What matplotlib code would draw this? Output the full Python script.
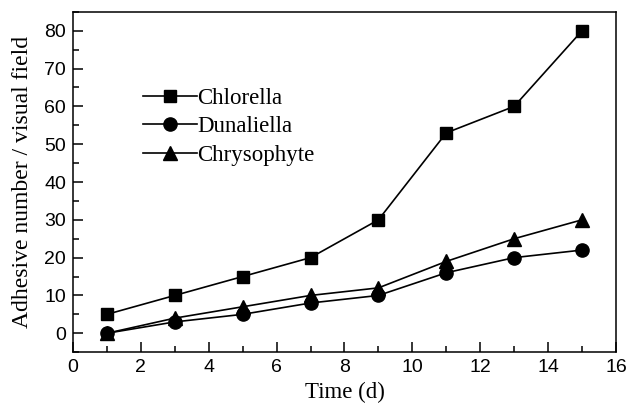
import matplotlib.pyplot as plt
from matplotlib.ticker import MultipleLocator

days = [1, 3, 5, 7, 9, 11, 13, 15]
chlorella = [5, 10, 15, 20, 30, 53, 60, 80]
dunaliella = [0, 3, 5, 8, 10, 16, 20, 22]
chrysophyte = [0, 4, 7, 10, 12, 19, 25, 30]

serif = "Liberation Serif"
sans = "Liberation Sans"

fig = plt.figure(figsize=(6.26, 4.09), dpi=100)
ax = fig.add_axes([0.1166, 0.139, 0.8674, 0.832])

style = dict(color="black", lw=1.2)
ax.plot(days, chlorella, marker="s", markersize=9, label="Chlorella", **style)
ax.plot(days, dunaliella, marker="o", markersize=9.5, label="Dunaliella", **style)
ax.plot(days, chrysophyte, marker="^", markersize=10, label="Chrysophyte", **style)

ax.set_xlim(0, 16)
ax.set_ylim(-5, 85)
ax.xaxis.set_major_locator(MultipleLocator(2))
ax.xaxis.set_minor_locator(MultipleLocator(1))
ax.yaxis.set_major_locator(MultipleLocator(10))
ax.yaxis.set_minor_locator(MultipleLocator(5))
ax.tick_params(which="both", direction="in", top=False, right=False, width=1.1)
ax.tick_params(which="major", length=7, labelsize=14, pad=5)
ax.tick_params(which="minor", length=4)
for lab in ax.get_xticklabels() + ax.get_yticklabels():
    lab.set_family(sans)
for sp in ax.spines.values():
    sp.set_linewidth(1.1)

ax.set_xlabel("Time (d)", family=serif, fontsize=16.5, labelpad=4)
ax.set_ylabel("Adhesive number / visual field", family=serif, fontsize=17, labelpad=8)

ax.legend(loc="center left", bbox_to_anchor=(0.112, 0.662), frameon=False,
          prop={"family": serif, "size": 16.5}, handlelength=2.35,
          handletextpad=0.0, labelspacing=0.32, borderaxespad=0)

fig.savefig("out.png", dpi=100)
